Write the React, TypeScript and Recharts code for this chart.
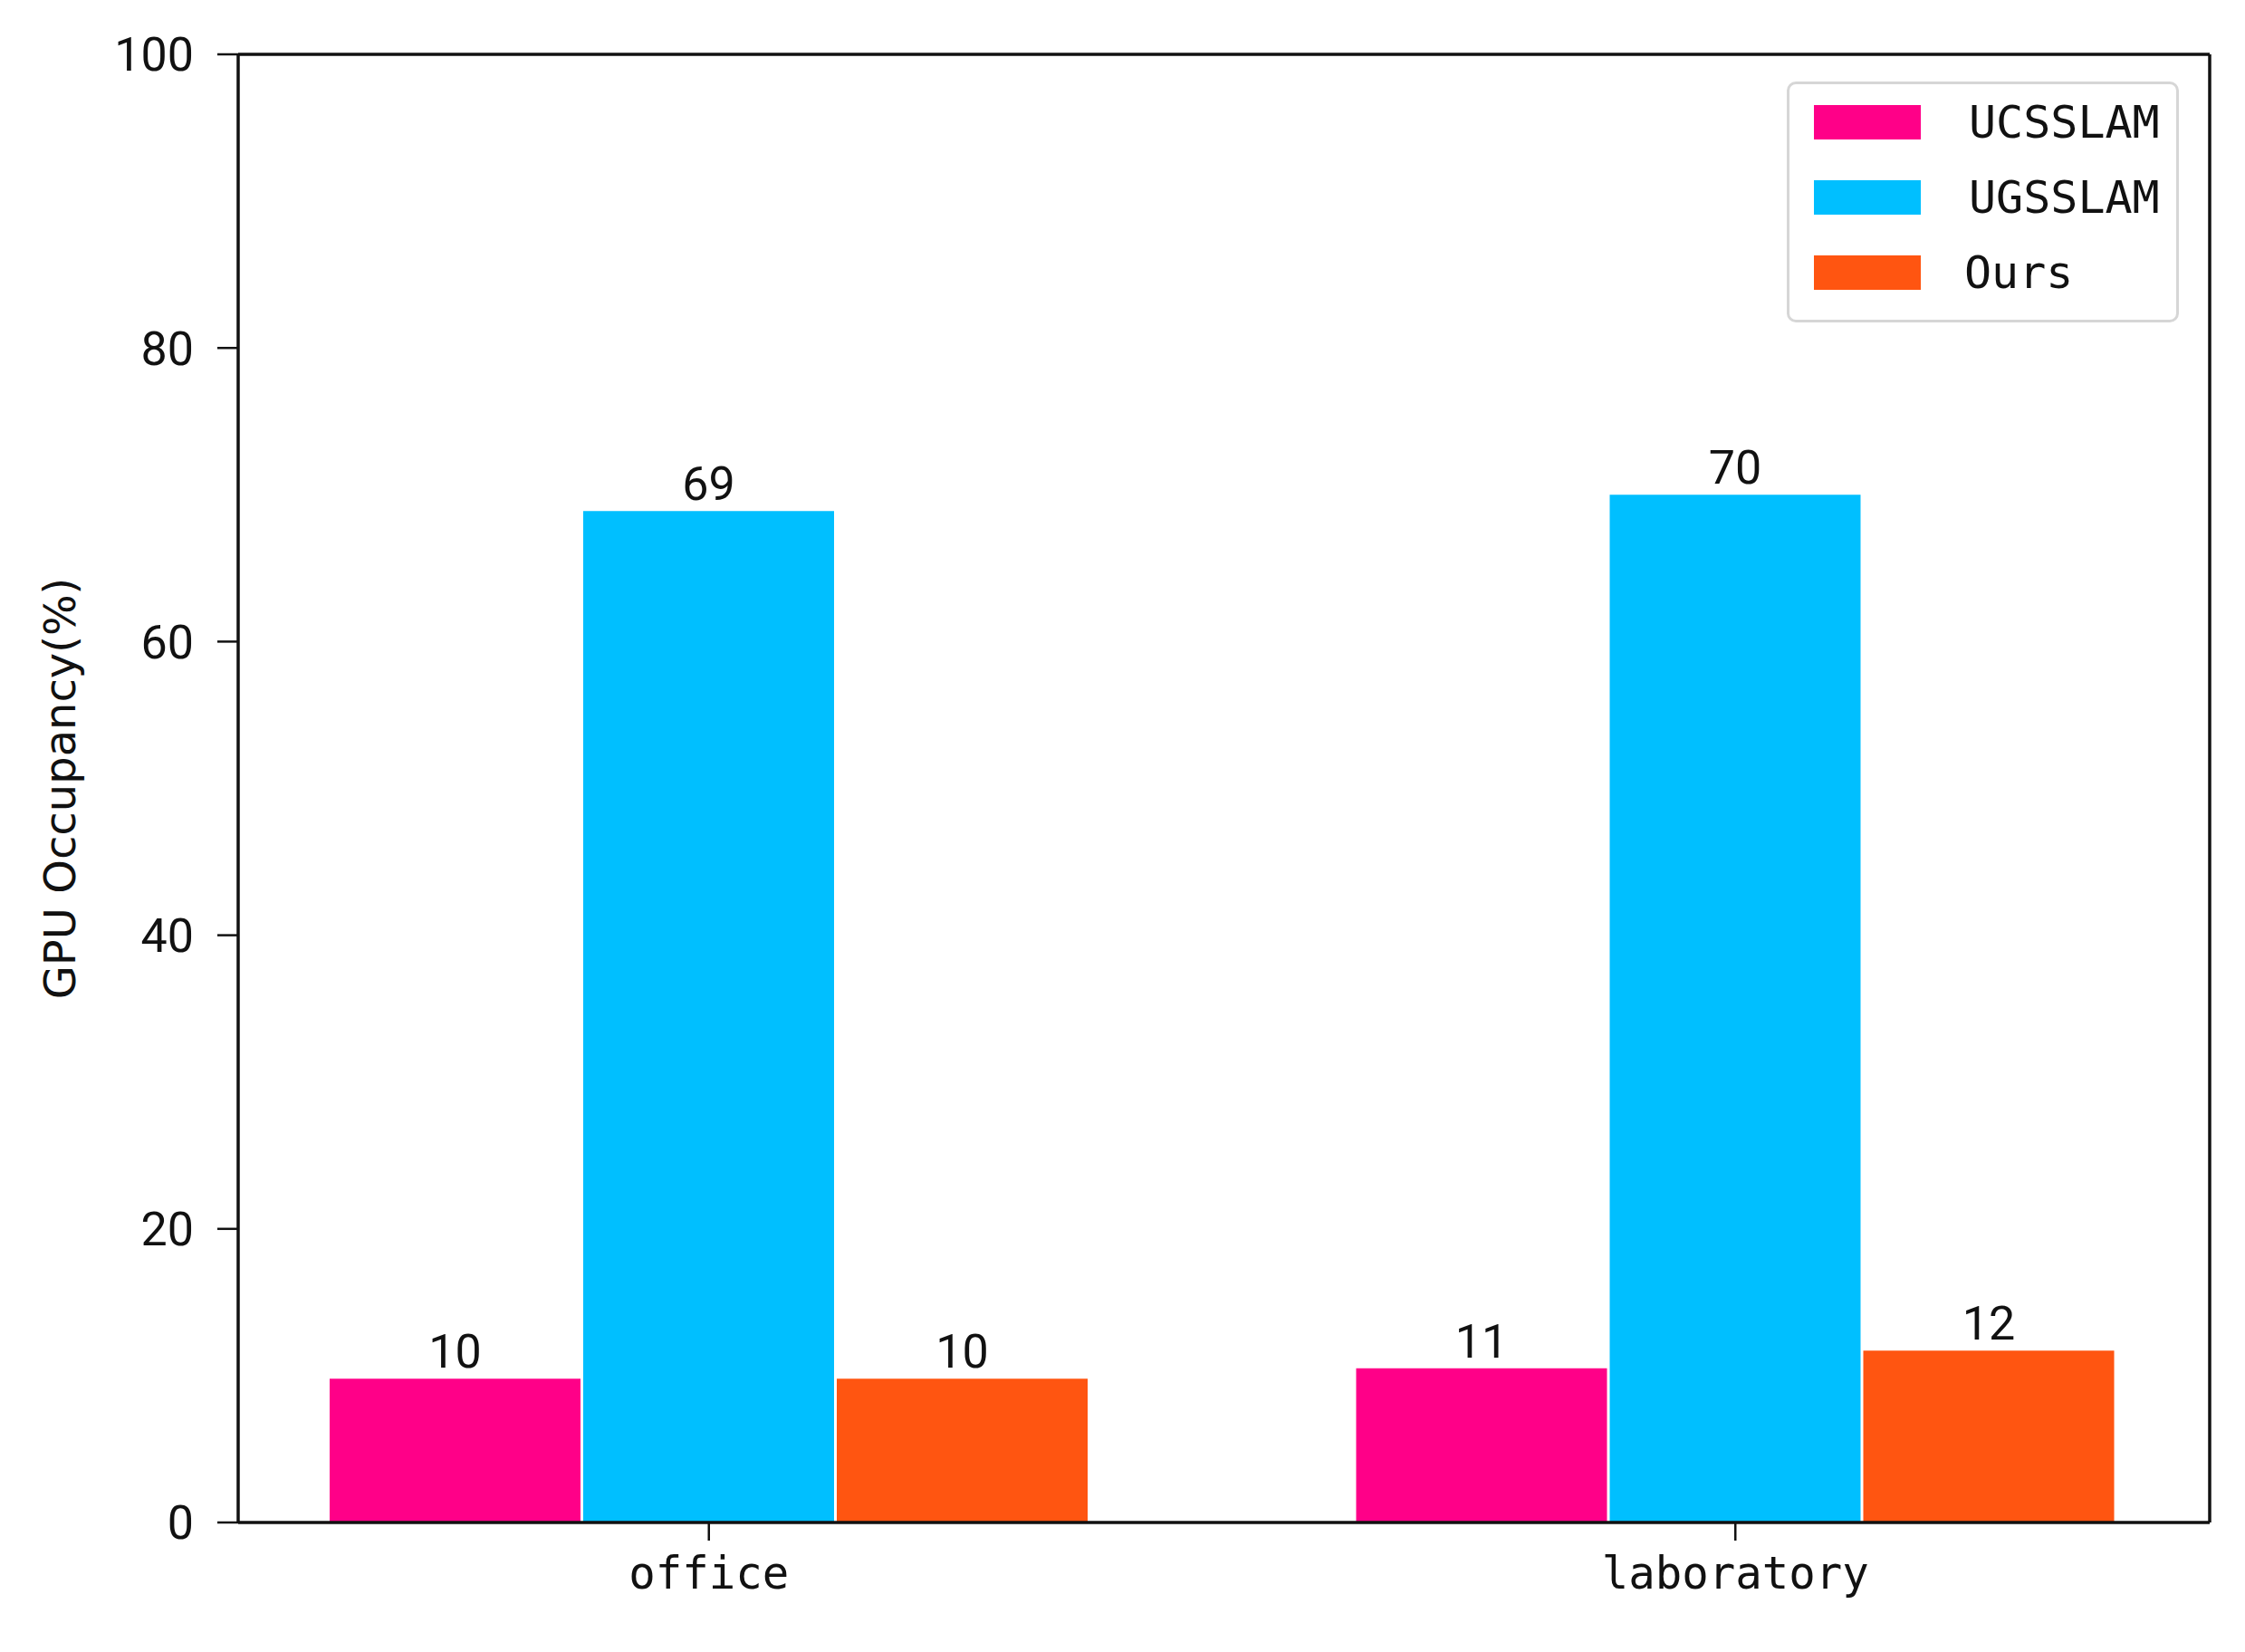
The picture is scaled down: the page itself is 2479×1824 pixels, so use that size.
import { BarChart, Bar, XAxis, YAxis, LabelList } from 'recharts';

const categories = ['office', 'laboratory'];
const ucsslam = [9.8, 10.5];
const ugsslam = [68.9, 70];
const ours = [9.8, 11.7];
const yTicks = [0, 20, 40, 60, 80, 100];

const series = [
  { key: 'UCSSLAM', color: '#FF0088' },
  { key: 'UGSSLAM', color: '#00BFFF' },
  { key: 'Ours', color: '#FF5511' }
];

const data = categories.map((name, i) => ({
  name,
  UCSSLAM: ucsslam[i],
  UGSSLAM: ugsslam[i],
  Ours: ours[i]
}));

const numFont = 'Roboto, "DejaVu Sans", sans-serif';
const monoFont = '"DejaVu Sans Mono", "Liberation Mono", monospace';

// legend drawn as plain html on top of the chart, so it takes no room from the plot
const LegendBox = () => (
  <div
    style={{
      position: 'absolute',
      left: 1973,
      top: 90,
      width: 433,
      height: 266,
      border: '3px solid #d6d6d6',
      borderRadius: 10,
      background: '#fff',
      boxSizing: 'border-box'
    }}
  >
    {series.map((s, i) => (
      <div
        key={s.key}
        style={{ position: 'absolute', left: 27, top: 22 + i * 83, height: 40, display: 'flex', alignItems: 'center' }}
      >
        <div style={{ width: 118, height: 38, background: s.color }} />
        <span
          style={{
            marginLeft: s.key === 'Ours' ? 48 : 53,
            fontFamily: monoFont,
            fontSize: 50,
            color: '#111',
            lineHeight: '40px'
          }}
        >
          {s.key}
        </span>
      </div>
    ))}
  </div>
);

const App = () => {
  return (
    <div style={{ position: 'absolute', left: 0, top: 0, width: 2479, height: 1824, background: '#fff' }}>
      <BarChart
        width={2479}
        height={1824}
        data={data}
        margin={{ top: 59, right: 38, bottom: 43, left: 0 }}
        barSize={277}
        barGap={3}
      >
        <XAxis
          dataKey="name"
          padding={{ left: -47, right: -43 }}
          height={100}
          axisLine={{ stroke: '#111', strokeWidth: 3.5 }}
          tickLine={{ stroke: '#111', strokeWidth: 2.5 }}
          tickSize={20}
          tickMargin={18}
          tick={{ fill: '#111', fontFamily: monoFont, fontSize: 49 }}
        />
        <XAxis
          xAxisId="top"
          orientation="top"
          dataKey="name"
          height={1}
          tick={false}
          tickLine={false}
          axisLine={{ stroke: '#111', strokeWidth: 3.5 }}
        />
        <YAxis
          domain={[0, 100]}
          ticks={yTicks}
          width={263}
          axisLine={{ stroke: '#111', strokeWidth: 3.5 }}
          tickLine={{ stroke: '#111', strokeWidth: 2.5 }}
          tickSize={23}
          tickMargin={26}
          tick={{ fill: '#111', fontFamily: numFont, fontSize: 52 }}
          label={{
            value: 'GPU Occupancy(%)',
            angle: -90,
            position: 'insideLeft',
            offset: 66,
            style: { textAnchor: 'middle', fill: '#111', fontFamily: '"DejaVu Sans", sans-serif', fontSize: 48 }
          }}
        />
        <YAxis
          yAxisId="r"
          orientation="right"
          domain={[0, 100]}
          width={1}
          tick={false}
          tickLine={false}
          axisLine={{ stroke: '#111', strokeWidth: 3.5 }}
        />
        {series.map((s) => (
          <Bar key={s.key} dataKey={s.key} fill={s.color} isAnimationActive={false}>
            <LabelList
              dataKey={s.key}
              position="top"
              offset={12}
              formatter={(v: number) => Math.round(v)}
              style={{ fill: '#111', fontFamily: numFont, fontSize: 52 }}
            />
          </Bar>
        ))}
      </BarChart>
      <LegendBox />
    </div>
  );
};

export default App;
